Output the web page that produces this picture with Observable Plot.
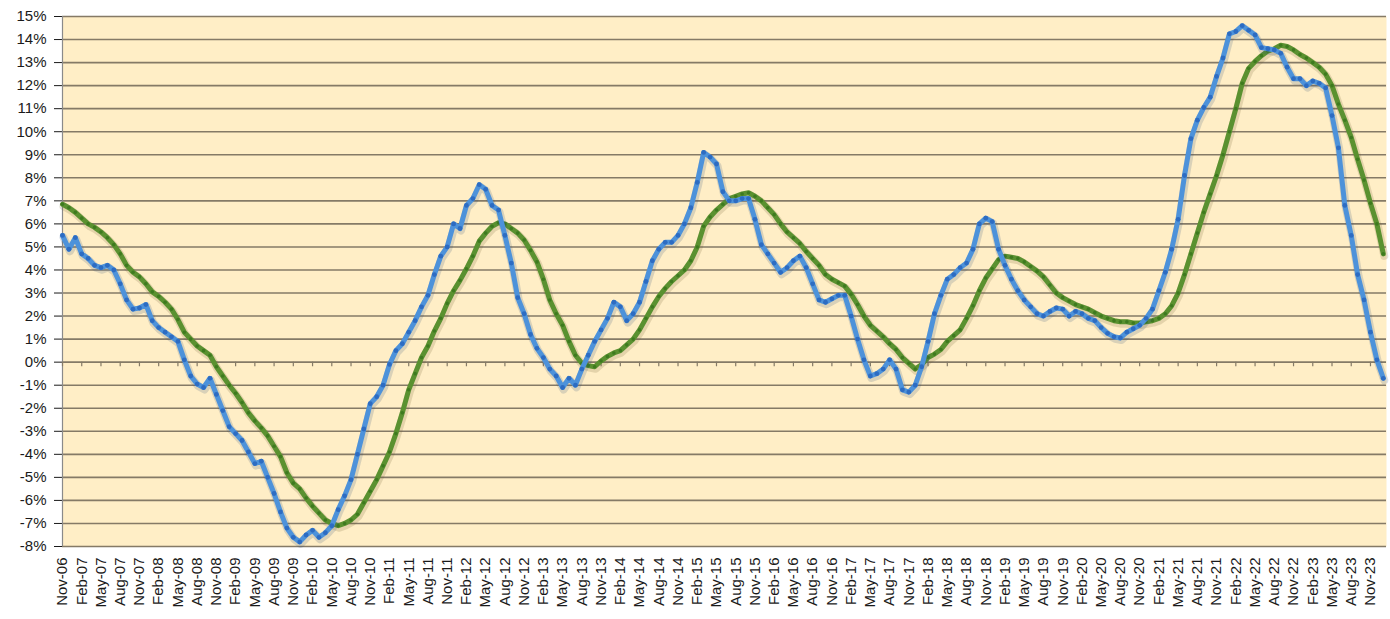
<!DOCTYPE html>
<html><head><meta charset="utf-8">
<script src="https://cdn.jsdelivr.net/npm/d3@7"></script>
<script src="https://cdn.jsdelivr.net/npm/@observablehq/plot@0.6"></script>
<style>
html,body{margin:0;padding:0;background:#fff;overflow:hidden}
#chart svg{display:block}
</style></head><body><div id="chart"></div>
<script>
// Categories: monthly, Nov-06 .. Jan-24
const monthNames = ["Jan","Feb","Mar","Apr","May","Jun","Jul","Aug","Sep","Oct","Nov","Dec"];
const months = d3.range(207).map(i => {
  const k = 10 + i;
  return monthNames[k % 12] + "-" + String((2006 + Math.floor(k / 12)) % 100).padStart(2, "0");
});
// Labelled categories: every third month (Nov-06, Feb-07, ... Nov-23)
const tickIdx = d3.range(0, 205, 3);
const yTicks = d3.range(-8, 16);

// Blue series (%), monthly
const blue = [
  5.5, 4.9,                                                  // Nov-06, Dec-06
  5.4, 4.7, 4.5, 4.2, 4.1, 4.2, 4.0, 3.4, 2.7, 2.3, 2.35, 2.5,   // 2007
  1.8, 1.5, 1.3, 1.1, 0.9, 0.1, -0.6, -0.95, -1.1, -0.7, -1.4, -2.1, // 2008
  -2.8, -3.1, -3.4, -3.9, -4.4, -4.3, -5.0, -5.7, -6.5, -7.2, -7.6, -7.8, // 2009
  -7.5, -7.3, -7.6, -7.4, -7.1, -6.4, -5.8, -5.1, -4.0, -2.9, -1.8, -1.5, // 2010
  -1.0, -0.1, 0.5, 0.8, 1.3, 1.8, 2.4, 2.9, 3.8, 4.6, 5.0, 6.0,  // 2011
  5.8, 6.8, 7.1, 7.7, 7.5, 6.8, 6.6, 5.5, 4.3, 2.8, 2.1, 1.2,    // 2012
  0.6, 0.2, -0.3, -0.6, -1.1, -0.7, -1.0, -0.3, 0.3, 0.9, 1.4, 1.9, // 2013
  2.6, 2.4, 1.8, 2.1, 2.6, 3.5, 4.4, 4.9, 5.2, 5.2, 5.5, 6.0,    // 2014
  6.7, 7.8, 9.1, 8.9, 8.6, 7.4, 7.0, 7.0, 7.1, 7.1, 6.2, 5.1,    // 2015
  4.7, 4.3, 3.9, 4.1, 4.4, 4.6, 4.1, 3.4, 2.7, 2.6, 2.75, 2.9,   // 2016
  2.9, 2.0, 1.0, 0.1, -0.6, -0.5, -0.3, 0.1, -0.3, -1.2, -1.3, -1.0, // 2017
  -0.2, 0.9, 2.1, 2.9, 3.6, 3.8, 4.1, 4.3, 4.9, 6.0, 6.25, 6.1,  // 2018
  4.9, 4.2, 3.6, 3.1, 2.7, 2.4, 2.1, 2.0, 2.2, 2.35, 2.3, 2.0,   // 2019
  2.2, 2.1, 1.9, 1.8, 1.5, 1.25, 1.1, 1.05, 1.3, 1.45, 1.6, 1.9, // 2020
  2.3, 3.1, 3.9, 4.9, 6.2, 8.1, 9.7, 10.5, 11.05, 11.5, 12.4, 13.2, // 2021
  14.25, 14.35, 14.6, 14.4, 14.2, 13.65, 13.6, 13.55, 13.4, 12.8, 12.3, 12.3, // 2022
  12.0, 12.2, 12.1, 11.9, 10.7, 9.3, 6.8, 5.5, 3.8, 2.7, 1.3, 0.1, // 2023
  -0.7                                                        // Jan-24
];

// Green series (%), monthly
const green = [
  6.85, 6.7,
  6.5, 6.25, 6.0, 5.85, 5.65, 5.4, 5.1, 4.7, 4.2, 3.9, 3.7, 3.4,
  3.05, 2.85, 2.6, 2.3, 1.85, 1.3, 1.0, 0.7, 0.5, 0.3, -0.2, -0.6,
  -1.0, -1.35, -1.75, -2.2, -2.55, -2.85, -3.2, -3.65, -4.1, -4.8, -5.25, -5.5,
  -5.9, -6.25, -6.55, -6.85, -7.0, -7.1, -7.0, -6.85, -6.6, -6.1, -5.6, -5.1,
  -4.5, -3.9, -3.1, -2.2, -1.2, -0.5, 0.2, 0.7, 1.35, 1.9, 2.55, 3.1,
  3.55, 4.05, 4.6, 5.25, 5.6, 5.9, 6.05, 6.0, 5.8, 5.6, 5.3, 4.85,
  4.35, 3.6, 2.7, 2.1, 1.6, 0.9, 0.3, -0.05, -0.15, -0.2, 0.05, 0.25,
  0.4, 0.5, 0.75, 1.0, 1.4, 1.9, 2.4, 2.85, 3.2, 3.5, 3.75, 4.0,
  4.4, 5.0, 5.9, 6.3, 6.6, 6.85, 7.1, 7.2, 7.3, 7.35, 7.2, 7.0,
  6.7, 6.4, 6.0, 5.65, 5.4, 5.15, 4.8, 4.5, 4.2, 3.8, 3.6, 3.45,
  3.3, 2.95, 2.5, 2.0, 1.6, 1.35, 1.1, 0.8, 0.55, 0.2, -0.05, -0.3,
  -0.1, 0.2, 0.35, 0.55, 0.9, 1.15, 1.4, 1.9, 2.45, 3.1, 3.65, 4.05,
  4.45, 4.6, 4.55, 4.5, 4.35, 4.15, 3.95, 3.7, 3.35, 3.0, 2.8, 2.65,
  2.5, 2.4, 2.3, 2.15, 2.0, 1.9, 1.8, 1.75, 1.75, 1.7, 1.7, 1.75,
  1.8, 1.9, 2.1, 2.45, 3.0, 3.8, 4.7, 5.6, 6.5, 7.3, 8.1, 9.0,
  10.0, 11.0, 12.1, 12.75, 13.05, 13.3, 13.5, 13.6, 13.75, 13.7, 13.55, 13.35,
  13.2, 13.0, 12.8, 12.5, 12.0, 11.2, 10.5, 9.75, 8.8, 7.9, 6.9, 6.0,
  4.7
];

const rows = months.map((m, i) => ({i, label: m, blue: blue[i], green: green[i]}));

const chart = Plot.plot({
  width: 1390,
  height: 619,
  marginLeft: 62,
  marginRight: 4,
  marginTop: 16,
  marginBottom: 73,
  style: {background: "#fff", fontFamily: "'Liberation Sans', Arial, sans-serif", fontSize: "15px", color: "#1a1a1a"},
  x: {domain: [0, 206.5], ticks: tickIdx, tickFormat: i => months[i], tickRotate: -90, tickSize: 0, tickPadding: 11, label: null},
  y: {domain: [-8, 15], ticks: yTicks, tickFormat: d => d + "%", tickSize: 8, tickPadding: 8, label: null},
  marks: [
    Plot.frame({fill: "#FFEEC6", stroke: null}),
    Plot.ruleY(yTicks, {stroke: "#857a66", strokeWidth: 1.6}),
    Plot.ruleX([0], {stroke: "#8a8a8a", strokeWidth: 1.2}),
    Plot.ruleX(tickIdx, {x: d => d, y1: 0, y2: -0.2, stroke: "#857a66", strokeWidth: 1.2}),
    // soft shadows
    Plot.line(rows, {x: "i", y: "green", stroke: "#6b5a2a", strokeOpacity: 0.18, strokeWidth: 8, dx: 1, dy: 2}),
    Plot.line(rows, {x: "i", y: "green", stroke: "#5A9130", strokeWidth: 5}),
    Plot.dot(rows, {x: "i", y: "green", r: 1.8, fill: "#3E7A1F", stroke: null}),
    Plot.line(rows, {x: "i", y: "blue", stroke: "#2c4f7a", strokeOpacity: 0.18, strokeWidth: 8, dx: 1, dy: 2}),
    Plot.line(rows, {x: "i", y: "blue", stroke: "#4D92DA", strokeWidth: 5}),
    Plot.dot(rows, {x: "i", y: "blue", r: 2.4, fill: "#2D6CC2", stroke: null})
  ]
});
document.getElementById("chart").appendChild(chart);
</script>
</body></html>
